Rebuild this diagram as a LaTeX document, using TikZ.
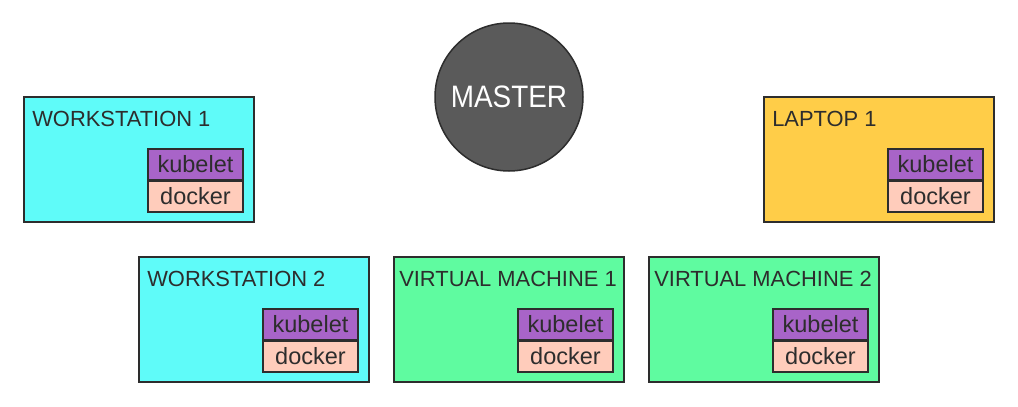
\documentclass[tikz,border=0pt]{standalone}
\usepackage{fontspec}
\setmainfont{Liberation Sans}
\newfontfamily\masterfont[FakeStretch=0.9]{Liberation Sans}
\usetikzlibrary{calc}
\definecolor{wscyan}{RGB}{95,251,249}
\definecolor{vmgreen}{RGB}{95,251,160}
\definecolor{lapyellow}{RGB}{255,205,72}
\definecolor{kubepurple}{RGB}{168,100,200}
\definecolor{dockpink}{RGB}{255,204,187}
\definecolor{mastergray}{RGB}{90,90,90}
\definecolor{edge}{RGB}{45,45,45}
\tikzset{
  machine/.style={draw=edge, line width=1.8pt, minimum width=230pt, minimum height=125pt, inner sep=0pt},
  header/.style={anchor=base west, inner sep=0pt, text=edge, font=\fontsize{21.9}{26}\selectfont},
  kubebox/.style={draw=edge, line width=1.8pt, fill=kubepurple, minimum width=95pt, minimum height=30.5pt, inner sep=0pt, text=edge, font=\fontsize{23.5}{28}\selectfont, anchor=north west},
  dockbox/.style={draw=edge, line width=1.8pt, fill=dockpink, minimum width=95pt, minimum height=30.5pt, inner sep=0pt, text=edge, font=\fontsize{23.5}{28}\selectfont, anchor=north},
  masternode/.style={circle, draw=edge, line width=1.5pt, fill=mastergray, minimum size=148pt, inner sep=0pt, text=white, font=\masterfont\fontsize{31}{34}\selectfont}
}
\begin{document}
\begin{tikzpicture}[x=1pt,y=-1pt]
\useasboundingbox (0,0) rectangle (1018,407);
\node[masternode] (master) at (509,97) {MASTER};

\node[machine, fill=wscyan] (ws1) at (139,159.5) {};
\node[header] (ws1h) at ($(ws1.north west)+(9,30)$) {WORKSTATION 1};
\node[kubebox] (ws1k) at ($(ws1.north west)+(124,52)$) {kubelet};
\node[dockbox] (ws1d) at (ws1k.south) {docker};

\node[machine, fill=lapyellow] (lap1) at (879,159.5) {};
\node[header] (lap1h) at ($(lap1.north west)+(9,30)$) {LAPTOP 1};
\node[kubebox] (lap1k) at ($(lap1.north west)+(124,52)$) {kubelet};
\node[dockbox] (lap1d) at (lap1k.south) {docker};

\node[machine, fill=wscyan] (ws2) at (254,319.5) {};
\node[header] (ws2h) at ($(ws2.north west)+(9,30)$) {WORKSTATION 2};
\node[kubebox] (ws2k) at ($(ws2.north west)+(124,52)$) {kubelet};
\node[dockbox] (ws2d) at (ws2k.south) {docker};

\node[machine, fill=vmgreen] (vm1) at (509,319.5) {};
\node[header] (vm1h) at ($(vm1.north west)+(6,30)$) {VIRTUAL MACHINE 1};
\node[kubebox] (vm1k) at ($(vm1.north west)+(124,52)$) {kubelet};
\node[dockbox] (vm1d) at (vm1k.south) {docker};

\node[machine, fill=vmgreen] (vm2) at (764,319.5) {};
\node[header] (vm2h) at ($(vm2.north west)+(6,30)$) {VIRTUAL MACHINE 2};
\node[kubebox] (vm2k) at ($(vm2.north west)+(124,52)$) {kubelet};
\node[dockbox] (vm2d) at (vm2k.south) {docker};
\end{tikzpicture}
\end{document}
